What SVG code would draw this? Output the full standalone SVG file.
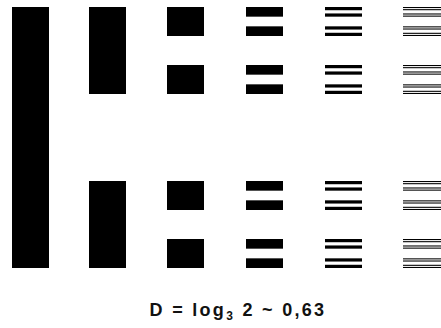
<svg xmlns="http://www.w3.org/2000/svg" width="441" height="328" viewBox="0 0 441 328">
<style>
rect{fill:#000}
.lbl{font-family:"Liberation Sans",Arial,sans-serif;font-size:18px;font-weight:bold;fill:#111}
.sub{font-size:12px}
</style>
<rect x="0" y="0" width="441" height="328" style="fill:#fff"/>
<g transform="translate(0,7) scale(1,1.074074)">
<g id="level0"><rect x="12" y="0" width="37" height="243"/></g>
<g id="level1"><rect x="89" y="0" width="37" height="81"/><rect x="89" y="162" width="37" height="81"/></g>
<g id="level2"><rect x="167" y="0" width="37" height="27"/><rect x="167" y="54" width="37" height="27"/><rect x="167" y="162" width="37" height="27"/><rect x="167" y="216" width="37" height="27"/></g>
<g id="level3">
<rect x="246" y="0" width="37" height="9"/><rect x="246" y="18" width="37" height="9"/><rect x="246" y="54" width="37" height="9"/><rect x="246" y="72" width="37" height="9"/>
<rect x="246" y="162" width="37" height="9"/><rect x="246" y="180" width="37" height="9"/><rect x="246" y="216" width="37" height="9"/><rect x="246" y="234" width="37" height="9"/>
</g>
<g id="level4">
<rect x="325" y="0" width="37" height="3"/><rect x="325" y="6" width="37" height="3"/><rect x="325" y="18" width="37" height="3"/><rect x="325" y="24" width="37" height="3"/>
<rect x="325" y="54" width="37" height="3"/><rect x="325" y="60" width="37" height="3"/><rect x="325" y="72" width="37" height="3"/><rect x="325" y="78" width="37" height="3"/>
<rect x="325" y="162" width="37" height="3"/><rect x="325" y="168" width="37" height="3"/><rect x="325" y="180" width="37" height="3"/><rect x="325" y="186" width="37" height="3"/>
<rect x="325" y="216" width="37" height="3"/><rect x="325" y="222" width="37" height="3"/><rect x="325" y="234" width="37" height="3"/><rect x="325" y="240" width="37" height="3"/>
</g>
<g id="level5">
<rect x="403" y="0" width="38" height="1"/><rect x="403" y="2" width="38" height="1"/><rect x="403" y="6" width="38" height="1"/><rect x="403" y="8" width="38" height="1"/>
<rect x="403" y="18" width="38" height="1"/><rect x="403" y="20" width="38" height="1"/><rect x="403" y="24" width="38" height="1"/><rect x="403" y="26" width="38" height="1"/>
<rect x="403" y="54" width="38" height="1"/><rect x="403" y="56" width="38" height="1"/><rect x="403" y="60" width="38" height="1"/><rect x="403" y="62" width="38" height="1"/>
<rect x="403" y="72" width="38" height="1"/><rect x="403" y="74" width="38" height="1"/><rect x="403" y="78" width="38" height="1"/><rect x="403" y="80" width="38" height="1"/>
<rect x="403" y="162" width="38" height="1"/><rect x="403" y="164" width="38" height="1"/><rect x="403" y="168" width="38" height="1"/><rect x="403" y="170" width="38" height="1"/>
<rect x="403" y="180" width="38" height="1"/><rect x="403" y="182" width="38" height="1"/><rect x="403" y="186" width="38" height="1"/><rect x="403" y="188" width="38" height="1"/>
<rect x="403" y="216" width="38" height="1"/><rect x="403" y="218" width="38" height="1"/><rect x="403" y="222" width="38" height="1"/><rect x="403" y="224" width="38" height="1"/>
<rect x="403" y="234" width="38" height="1"/><rect x="403" y="236" width="38" height="1"/><rect x="403" y="240" width="38" height="1"/><rect x="403" y="242" width="38" height="1"/>
</g>
</g>
<g id="caption">
<text class="lbl" x="238" y="316" text-anchor="middle" letter-spacing="2.3">D = log<tspan class="sub" dy="4">3</tspan><tspan dy="-4"> 2 ~ 0,63</tspan></text>
</g>
</svg>
